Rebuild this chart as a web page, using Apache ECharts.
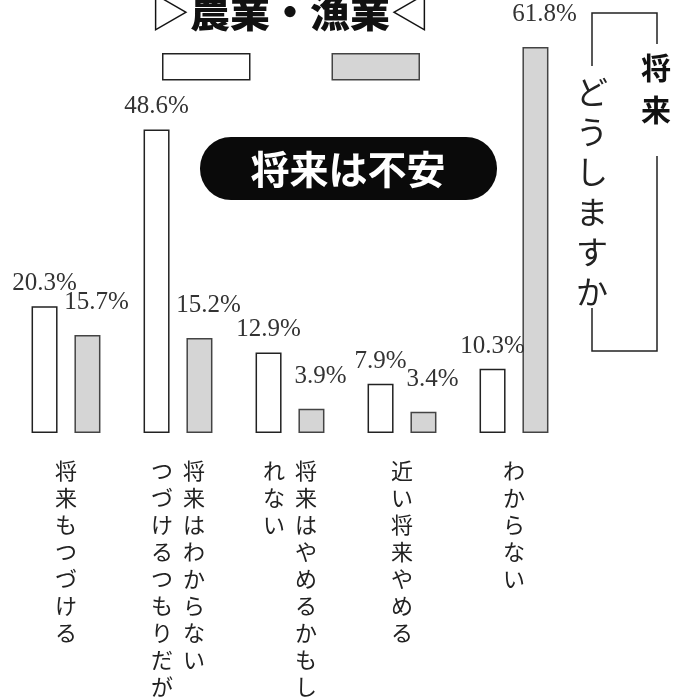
<!DOCTYPE html>
<html>
<head>
<meta charset="utf-8">
<script src="https://cdn.jsdelivr.net/npm/echarts@6/dist/echarts.min.js"></script>
<style>
  html, body { margin: 0; padding: 0; background: #fff; }
  #chart { width: 675px; height: 700px; }
</style>
</head>
<body>
<div id="chart"></div>
<script>
// 各項目の縦書きラベル（右の列から順に）
var categoryColumns = [
    ['将来もつづける'],
    ['将来はわからない', 'つづけるつもりだが'],
    ['将来はやめるかもし', 'れない'],
    ['近い将来やめる'],
    ['わからない']
];
var categories = categoryColumns.map(function (c) { return c.join(''); });
var seriesNames = ['農業', '漁業'];
var whiteValues = [20.3, 48.6, 12.9, 7.9, 10.3];
var grayValues = [15.7, 15.2, 3.9, 3.4, 61.8];

// 縦書きにする: 1行に各列の1文字を並べる
function verticalText(name) {
    var cols = categoryColumns[categories.indexOf(name)];
    var n = 0;
    cols.forEach(function (c) { if (c.length > n) n = c.length; });
    var rows = [];
    for (var i = 0; i < n; i++) {
        if (cols.length === 1) {
            rows.push(cols[0].charAt(i));
        } else {
            var r = cols[0].charAt(i) || '　';
            var l = cols[1].charAt(i) || '　';
            rows.push(l + '  ' + r);
        }
    }
    return rows.join('\n');
}

var labelFont = {
    fontSize: 25,
    fontFamily: 'Liberation Serif',
    color: '#333'
};

var myChart = echarts.init(document.getElementById('chart'));

var option = {
    backgroundColor: '#fff',
    animation: false,
    title: {
        text: '{t|▷}{b|農業・漁業}{t|◁}',
        left: 150,
        top: -8,
        padding: 0,
        textStyle: {
            rich: {
                t: { fontSize: 40, fontFamily: 'Noto Sans CJK JP', color: '#111', fontWeight: 'normal' },
                b: { fontSize: 40, fontFamily: 'Noto Sans CJK JP', color: '#111', fontWeight: 900 }
            }
        }
    },
    legend: {
        left: 162,
        top: 53,
        padding: 0,
        itemWidth: 87,
        itemHeight: 26,
        itemGap: 81,
        icon: 'rect',
        selectedMode: false,
        formatter: function () { return ''; },
        data: [
            { name: seriesNames[0], itemStyle: { color: '#fff', borderColor: '#222', borderWidth: 1.5 } },
            { name: seriesNames[1], itemStyle: { color: '#d5d5d5', borderColor: '#444', borderWidth: 1.5 } }
        ]
    },
    grid: { left: 10, right: 105, top: 27, bottom: 256 },
    xAxis: {
        type: 'category',
        data: categories,
        axisLine: { show: false },
        axisTick: { show: false },
        axisLabel: {
            interval: 0,
            margin: 24,
            fontSize: 22,
            lineHeight: 27,
            fontFamily: 'Noto Sans CJK JP',
            color: '#222',
            formatter: verticalText
        }
    },
    yAxis: {
        type: 'value',
        min: 0,
        max: 65,
        show: false,
        splitLine: { show: false }
    },
    series: [{
        name: seriesNames[0],
        type: 'bar',
        data: whiteValues,
        barWidth: 26,
        barGap: '65%',
        itemStyle: { color: '#fff', borderColor: '#222', borderWidth: 1.5 },
        label: Object.assign({
            show: true,
            position: 'top',
            distance: 10,
            formatter: '{c}%'
        }, labelFont)
    }, {
        name: seriesNames[1],
        type: 'bar',
        data: grayValues,
        barWidth: 26,
        itemStyle: { color: '#d5d5d5', borderColor: '#444', borderWidth: 1.5 },
        label: Object.assign({
            show: true,
            position: 'top',
            distance: 20,
            offset: [9, 0],
            formatter: '{c}%'
        }, labelFont)
    }],
    graphic: [
        // 「将来は不安」
        {
            type: 'rect',
            shape: { x: 200, y: 137, width: 297, height: 63, r: 31 },
            style: { fill: '#0a0a0a' }
        },
        {
            type: 'text',
            x: 348, y: 169,
            style: {
                text: '将来は不安',
                fill: '#fff',
                font: 'bold 39px "Noto Sans CJK JP"',
                textAlign: 'center',
                textVerticalAlign: 'middle'
            }
        },
        // 右の枠「将来どうしますか」
        {
            type: 'polyline',
            shape: { points: [[592, 66], [592, 13], [657, 13], [657, 44]] },
            style: { stroke: '#222', lineWidth: 1.5, fill: null }
        },
        {
            type: 'polyline',
            shape: { points: [[657, 156], [657, 351], [592, 351], [592, 308]] },
            style: { stroke: '#222', lineWidth: 1.5, fill: null }
        },
        {
            type: 'text',
            x: 592, y: 72,
            style: {
                text: 'ど\nう\nし\nま\nす\nか',
                fill: '#222',
                font: '32px "Noto Sans CJK JP"',
                lineHeight: 40,
                textAlign: 'center'
            }
        },
        {
            type: 'text',
            x: 656, y: 47,
            style: {
                text: '将\n来',
                fill: '#111',
                font: 'bold 30px "Noto Sans CJK JP"',
                lineHeight: 42,
                textAlign: 'center'
            }
        }
    ]
};

myChart.setOption(option);
</script>
</body>
</html>
